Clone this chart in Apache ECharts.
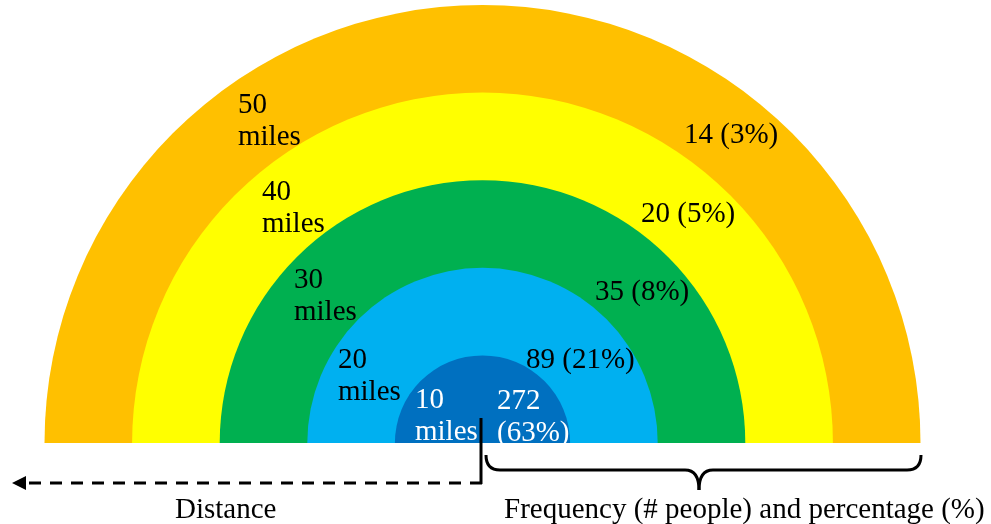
<!DOCTYPE html>
<html>
<head>
<meta charset="utf-8">
<script src="https://cdn.jsdelivr.net/npm/echarts@6/dist/echarts.min.js"></script>
<style>
  html, body { margin: 0; padding: 0; background: #fff; }
  #main { width: 991px; height: 524px; }
</style>
</head>
<body>
<div id="main"></div>
<script>
// distance rings (miles), inner to outer
var distances = [10, 20, 30, 40, 50];
var frequency = [272, 89, 35, 20, 14];
var percentage = [63, 21, 8, 5, 3];
var ringColors = ['#0070C0', '#00B0F0', '#00B050', '#FFFF00', '#FFC000'];

// label anchor spots (left, top of the first line) for each ring
var distLabelPos = [[415, 384], [338, 344.5], [294, 264], [262, 176], [238, 89.5]];
var freqLabelPos = [[497, 385], [526, 344.5], [595, 276.5], [641, 198], [684, 119]];

var FONT = 'Liberation Serif';
var FONT_SIZE = 29;

var chart = echarts.init(document.getElementById('main'));

var series = [];
// outer ring first so the smaller ones sit on top
for (var i = distances.length - 1; i >= 0; i--) {
    series.push({
        type: 'bar',
        coordinateSystem: 'polar',
        name: distances[i] + ' miles',
        data: [distances[i], '-'],
        barGap: '-100%',
        barCategoryGap: '0%',
        itemStyle: { color: ringColors[i] },
        silent: true
    });
}

function txt(x, y, s, color) {
    return {
        type: 'text',
        x: x,
        y: y,
        z: 100,
        style: {
            text: s,
            fontFamily: FONT,
            fontSize: FONT_SIZE,
            lineHeight: 32,
            fill: color || '#000'
        }
    };
}
function seg(x1, y1, x2, y2, dash) {
    return {
        type: 'line', z: 100,
        shape: { x1: x1, y1: y1, x2: x2, y2: y2 },
        style: { stroke: '#000', lineWidth: 3, lineDash: dash || null }
    };
}
function curve(x1, y1, cx, cy, x2, y2) {
    return {
        type: 'bezierCurve', z: 100,
        shape: { x1: x1, y1: y1, cpx1: cx, cpy1: cy, x2: x2, y2: y2 },
        style: { stroke: '#000', lineWidth: 3, fill: null }
    };
}

var graphics = [];
for (var j = 0; j < distances.length; j++) {
    var white = j === 0;
    graphics.push(txt(distLabelPos[j][0], distLabelPos[j][1],
        distances[j] + '\nmiles', white ? '#fff' : '#000'));
    graphics.push(txt(freqLabelPos[j][0], freqLabelPos[j][1],
        white ? frequency[j] + '\n(' + percentage[j] + '%)'
              : frequency[j] + ' (' + percentage[j] + '%)',
        white ? '#fff' : '#000'));
}

// dashed distance arrow
graphics.push(seg(481, 418, 481, 484));
graphics.push(seg(482, 483, 26, 483, [12, 9]));
graphics.push({
    type: 'polygon', z: 100,
    shape: { points: [[12, 483], [26, 476], [26, 490]] },
    style: { fill: '#000' }
});
// curly brace under the frequency side
graphics.push(curve(486, 455, 486, 470, 500, 470));
graphics.push(seg(500, 470, 685, 470));
graphics.push(curve(685, 470, 699, 470, 699, 490));
graphics.push(curve(699, 490, 699, 470, 713, 470));
graphics.push(seg(713, 470, 907, 470));
graphics.push(curve(907, 470, 921, 470, 921, 455));

graphics.push(txt(175, 494, 'Distance'));
graphics.push(txt(504, 494, 'Frequency (# people) and percentage (%)'));

var option = {
    animation: false,
    polar: {
        center: [482.5, 443],
        radius: [0, 438]
    },
    angleAxis: {
        type: 'category',
        data: ['ring', 'none'],
        startAngle: 180,
        clockwise: true,
        show: false
    },
    radiusAxis: {
        type: 'value',
        min: 0,
        max: 50,
        show: false
    },
    series: series,
    graphic: graphics
};

chart.setOption(option);
</script>
</body>
</html>
